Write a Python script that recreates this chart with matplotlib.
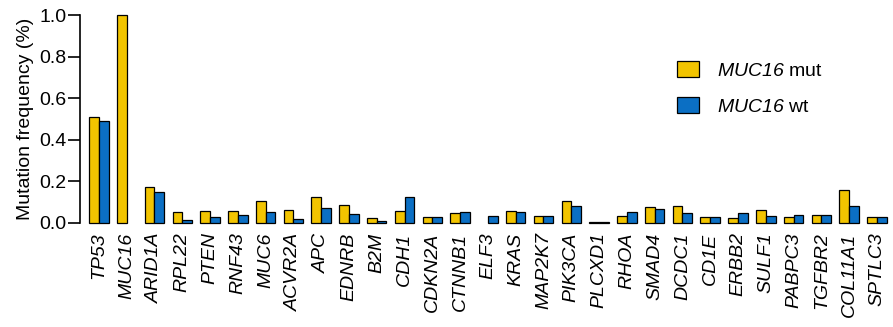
import numpy as np
import matplotlib
matplotlib.use("Agg")
import matplotlib.pyplot as plt

# genes mutados, frecuencia en tumores MUC16 mutado vs wild-type
genes = ["TP53", "MUC16", "ARID1A", "RPL22", "PTEN", "RNF43", "MUC6", "ACVR2A",
         "APC", "EDNRB", "B2M", "CDH1", "CDKN2A", "CTNNB1", "ELF3", "KRAS",
         "MAP2K7", "PIK3CA", "PLCXD1", "RHOA", "SMAD4", "DCDC1", "CD1E", "ERBB2",
         "SULF1", "PABPC3", "TGFBR2", "COL11A1", "SPTLC3"]
frec_mut = [0.51, 1.00, 0.17, 0.050, 0.056, 0.056, 0.103, 0.061,
            0.125, 0.085, 0.021, 0.056, 0.029, 0.045, 0.0, 0.055,
            0.031, 0.103, 0.005, 0.032, 0.075, 0.080, 0.029, 0.021,
            0.061, 0.029, 0.037, 0.157, 0.029]
frec_wt = [0.488, 0.0, 0.146, 0.013, 0.029, 0.035, 0.050, 0.016,
           0.072, 0.042, 0.010, 0.125, 0.029, 0.053, 0.030, 0.050,
           0.031, 0.082, 0.005, 0.050, 0.064, 0.045, 0.027, 0.048,
           0.032, 0.039, 0.037, 0.082, 0.029]
yticks = [0.0, 0.2, 0.4, 0.6, 0.8, 1.0]

col_mut = "#F2C400"
col_wt = "#0B6FC4"

plt.rcParams["font.family"] = ["Liberation Sans", "DejaVu Sans"]
# el nombre del gen va en cursiva (incluidos los dígitos)
plt.rcParams["mathtext.fontset"] = "custom"
plt.rcParams["mathtext.it"] = "Liberation Sans:italic"
plt.rcParams["mathtext.rm"] = "Liberation Sans:italic"

fig = plt.figure(figsize=(8.93, 3.27), dpi=100)
W, H = 893, 327
izq, der, abajo, arriba = 80, 890, 222.7, 15
ax = fig.add_axes([izq / W, 1 - abajo / H, (der - izq) / W, (abajo - arriba) / H])

x = np.arange(len(genes))
ancho = 0.35
b1 = ax.bar(x - ancho / 2, frec_mut, ancho, color=col_mut, edgecolor="black",
            linewidth=0.9, label=r"$\mathrm{MUC16}$ mut", clip_on=False)
b2 = ax.bar(x + ancho / 2, frec_wt, ancho, color=col_wt, edgecolor="black",
            linewidth=0.9, label=r"$\mathrm{MUC16}$ wt", clip_on=False)
# barras en cero no se dibujan
for p in list(b1) + list(b2):
    if p.get_height() == 0:
        p.set_visible(False)

ax.set_xlim(-0.68, 28.47)
ax.set_ylim(0, 1.0)
ax.set_yticks(yticks)
ax.set_yticklabels([f"{v:.1f}" for v in yticks])
ax.set_xticks(x)
ax.set_xticklabels(genes, rotation=90, fontstyle="italic", fontsize=14)
ax.tick_params(axis="x", length=0, pad=7)
ax.tick_params(axis="y", length=8.5, width=1.2, pad=1, labelsize=14)
for s in ["top", "right", "bottom"]:
    ax.spines[s].set_visible(False)
ax.spines["left"].set_linewidth(1.2)
ax.set_ylabel("Mutation frequency (%)", fontsize=14, labelpad=4)

ax.legend(loc="upper left", bbox_to_anchor=((677 - izq) / (der - izq), 1 - (61 - arriba) / (abajo - arriba)),
          frameon=False, fontsize=14, handlelength=1.13, handleheight=0.88,
          handletextpad=0.93, labelspacing=0.9, borderpad=0, borderaxespad=0)

fig.savefig("out.png", dpi=100)
